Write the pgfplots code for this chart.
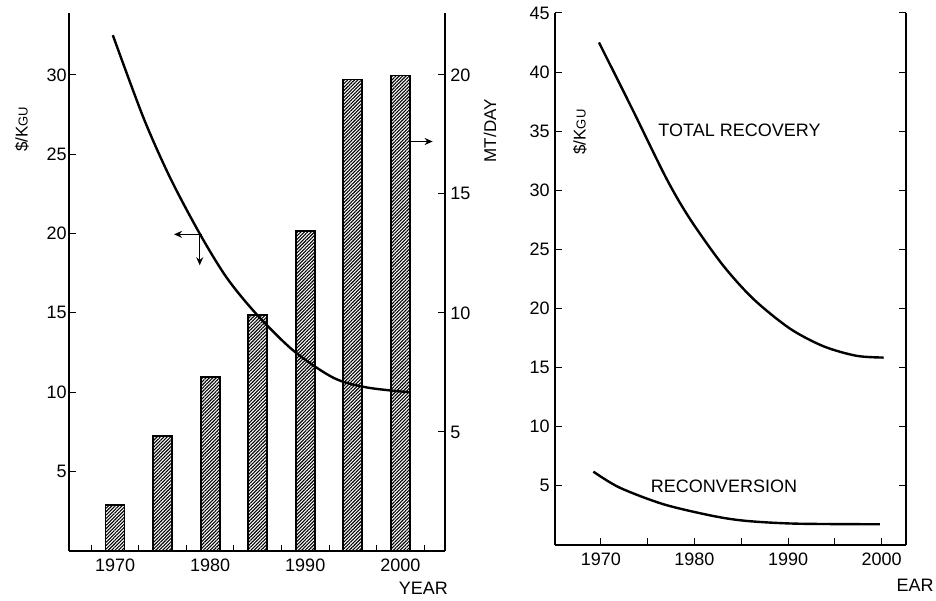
\documentclass[border=0pt]{standalone}
\usepackage{fontspec}
\setmainfont{Liberation Sans}
\usepackage{pgfplots}
\pgfplotsset{compat=1.18}
\usetikzlibrary{patterns.meta,arrows.meta}

\pgfplotsset{
  myaxis/.style={
    scale only axis,
    tick align=inside,
    major tick length=3.5pt,
    minor tick length=3pt,
    tick style={black, line width=0.5pt},
    axis line style={-, line width=0.7pt},
    tick label style={font=\fontsize{9}{10}\selectfont},
    /pgf/number format/assume math mode=true,
    /pgf/number format/1000 sep={},
    clip=false,
    anchor=south west,
  }
}

\begin{document}
\begin{tikzpicture}
\path (0pt,0pt) rectangle (468pt,298.5pt);
% ---------- left panel: bars (right axis, MT/DAY) ----------
\begin{axis}[myaxis,
  at={(34.5pt,23.5pt)}, width=188pt, height=269pt,
  xmin=1965.15, xmax=2004.7, ymin=0, ymax=22.6,
  axis x line*=bottom, axis y line*=right,
  x axis line style={draw=none},
  xtick=\empty,
  ytick pos=right, yticklabel pos=right,
  ytick={5,10,15,20},
  yticklabel style={inner xsep=2.5pt},
]
\addplot[ybar, bar width=9.5pt, bar shift=0pt, draw=black, line width=0.85pt,
  pattern={Lines[angle=45,distance=1.2pt,line width=0.55pt]}]
  coordinates {(1970,1.93)(1975,4.83)(1980,7.32)(1985,9.92)(1990,13.45)(1995,19.8)(2000,19.97)};
\node[rotate=90, font=\fontsize{8.5}{10}\selectfont] at (rel axis cs:1.12,0.781) {MT/DAY};
\end{axis}
% ---------- left panel: curve (left axis, $/KgU) ----------
\begin{axis}[myaxis,
  at={(34.5pt,23.5pt)}, width=188pt, height=269pt,
  xmin=1965.15, xmax=2004.7, ymin=0, ymax=33.9,
  axis x line*=bottom, axis y line*=left,
  xtick pos=left, ytick pos=left,
  xtick={1970,1980,1990,2000},
  minor xtick={1967.5,1972.5,...,2002.5},
  major x tick style={draw=none},
  ytick={5,10,...,30},
  yticklabel style={inner xsep=1pt},
  xticklabel style={inner ysep=4pt},
]
\addplot[smooth, line width=1.2pt] coordinates {
  (1969.76,32.5)(1972.98,27.3)(1975.8,23.5)(1978.95,19.94)(1981.76,17.2)
  (1984.9,14.9)(1988.8,12.6)(1993.0,10.9)(1996.5,10.3)(2000.9,10.0)};
\draw[line width=0.6pt,-{Stealth[length=4pt,width=3.5pt]}] (axis cs:1979.1,19.95) -- (axis cs:1976.2,19.95);
\draw[line width=0.6pt,-{Stealth[length=4pt,width=3.5pt]}] (axis cs:1978.9,19.95) -- (axis cs:1978.9,18.0);
\draw[line width=0.6pt,-{Stealth[length=4pt,width=3.5pt]}] (axis cs:2000.95,25.8) -- (axis cs:2003.4,25.8);
\node[rotate=90, font=\fontsize{8.5}{10}\selectfont] at (rel axis cs:-0.125,0.784) {\$/K{\fontsize{6.5}{8}\selectfont GU}};
\node[anchor=east, font=\fontsize{9}{10}\selectfont] at (rel axis cs:1,0) [xshift=5pt, yshift=-18.5pt] {YEAR};
\end{axis}
% ---------- right panel ----------
\begin{axis}[myaxis,
  at={(277.5pt,26.5pt)}, width=175.5pt, height=266pt,
  xmin=1965.1, xmax=2002.6, ymin=0, ymax=45,
  axis x line*=bottom, axis y line*=box,
  xtick pos=left, ytick pos=both, yticklabel pos=left,
  xtick={1970,1975,...,2000}, xticklabels={1970,,1980,,1990,,2000},
  ytick={5,10,...,45},
  yticklabel style={inner xsep=2.5pt},
  xticklabel style={inner ysep=4pt},
]
\addplot[smooth, line width=1.2pt] coordinates {
  (1969.8,42.5)(1973.4,36.8)(1977.0,31.0)(1979.5,27.6)(1983.0,23.7)
  (1986.3,20.8)(1990.2,18.3)(1993.8,16.8)(1997.3,16.0)(2000.2,15.85)};
\addplot[smooth, line width=1.2pt] coordinates {
  (1969.2,6.2)(1972.0,4.85)(1976.7,3.44)(1982.0,2.45)(1985.6,2.03)(1990.9,1.8)(1999.8,1.75)};
\node[anchor=west, font=\fontsize{9}{10}\selectfont] at (axis cs:1975.4,35.1) {TOTAL RECOVERY};
\node[anchor=west, font=\fontsize{9}{10}\selectfont] at (axis cs:1974.6,5.0) {RECONVERSION};
\node[rotate=90, font=\fontsize{8.5}{10}\selectfont] at (rel axis cs:0.071,0.776) {\$/K{\fontsize{6.5}{8}\selectfont GU}};
\node[anchor=east, font=\fontsize{9}{10}\selectfont, inner xsep=0pt] at (rel axis cs:1,0) [xshift=14pt, yshift=-20pt] {EAR};
\end{axis}
\end{tikzpicture}
\end{document}
